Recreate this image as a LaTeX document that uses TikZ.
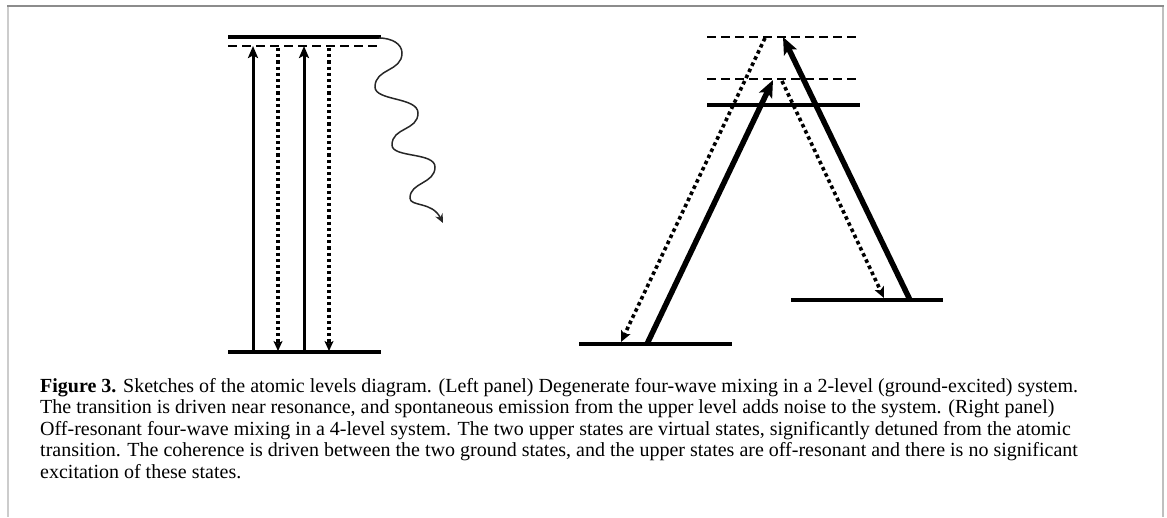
\documentclass[tikz,border=0pt]{standalone}
\usepackage{fontspec}
\setmainfont{Liberation Serif}
\usetikzlibrary{arrows.meta}
\begin{document}
\begin{tikzpicture}[x=1pt,y=-1pt,
  level/.style={line width=4pt},
  virt/.style={line width=1.6pt,dash pattern=on 9pt off 5pt},
  pump/.style={line width=3pt,-{Stealth[length=12pt,width=10pt,inset=2.5pt]}},
  emit/.style={line width=3.2pt,dash pattern=on 3.2pt off 3pt,-{Stealth[length=10pt,width=9pt,inset=2.5pt]}},
  bigpump/.style={line width=5.5pt,-{Stealth[length=17pt,width=14pt,inset=3.5pt]}},
  bigemit/.style={line width=3.6pt,dash pattern=on 3.6pt off 3.2pt,-{Stealth[length=11pt,width=10pt,inset=2.5pt]}},
  wave/.style={line width=1.5pt,draw=black!85,-{Stealth[length=9pt,width=8pt]}},
  capline/.style={anchor=base west,inner sep=0pt,font=\fontsize{20}{21.5}\selectfont},
  frame/.style={line width=1.6pt}
]
\useasboundingbox (0,0) rectangle (1167,517);
% frame
\draw[frame,draw=black!20] (8,6) -- (8,517);
\draw[frame,draw=black!25] (1163,6) -- (1163,517);
\draw[frame,draw=black!45] (7,6) -- (1164,6);

% ---------- left panel ----------
\coordinate (eL) at (228,37);  \coordinate (eR) at (381,37);
\coordinate (vL) at (228,46);  \coordinate (vR) at (381,46);
\coordinate (gL) at (228,352); \coordinate (gR) at (381,352);
\draw[level] (eL) -- (eR);
\draw[virt] (vL) -- (vR);
\draw[level] (gL) -- (gR);
\coordinate (a1b) at (253,352); \coordinate (a1t) at (253,46);
\coordinate (d1t) at (278,48);  \coordinate (d1b) at (278,351);
\coordinate (a2b) at (304,352); \coordinate (a2t) at (304,46);
\coordinate (d2t) at (329,48);  \coordinate (d2b) at (329,351);
\draw[pump] (a1b) -- (a1t);
\draw[pump] (a2b) -- (a2t);
\draw[emit] (d1t) -- (d1b);
\draw[emit] (d2t) -- (d2b);
% spontaneous emission
\coordinate (ws) at (379,38);
\coordinate (we) at (443,223);
\draw[wave] (ws) .. controls (392,38) and (402,44) .. (402,53)
  .. controls (402,72) and (375,68) .. (375,87)
  .. controls (375,101) and (418,97) .. (418,113)
  .. controls (418,131) and (392,127) .. (392,145)
  .. controls (392,158) and (435,152) .. (435,167)
  .. controls (435,184) and (410,182) .. (410,198)
  .. controls (410,207) and (432,201) .. (we);

% ---------- right panel ----------
\coordinate (t1L) at (707,37); \coordinate (t1R) at (857,37);
\coordinate (t2L) at (707,79); \coordinate (t2R) at (857,79);
\coordinate (sL) at (707,105); \coordinate (sR) at (860,105);
\coordinate (g1L) at (579,344); \coordinate (g1R) at (732,344);
\coordinate (g2L) at (791,300); \coordinate (g2R) at (943,300);
\draw[virt] (t1L) -- (t1R);
\draw[virt] (t2L) -- (t2R);
\draw[level] (sL) -- (sR);
\draw[level] (g1L) -- (g1R);
\draw[level] (g2L) -- (g2R);
\coordinate (A0) at (647,344); \coordinate (A1) at (773,80);
\coordinate (B0) at (765,38);  \coordinate (B1) at (621,342);
\coordinate (C0) at (910,300); \coordinate (C1) at (783,37);
\coordinate (D0) at (782,81);  \coordinate (D1) at (884,298);
\draw[bigemit] (B0) -- (B1);
\draw[bigemit] (D0) -- (D1);
\draw[bigpump] (A0) -- (A1);
\draw[bigpump] (C0) -- (C1);

% ---------- caption ----------
\node[capline] (c1) at (40,392) {\textbf{Figure 3.} Sketches of the atomic levels diagram. (Left panel) Degenerate four-wave mixing in a 2-level (ground-excited) system.};
\node[capline] (c2) at (40,413.5) {The transition is driven near resonance, and spontaneous emission from the upper level adds noise to the system. (Right panel)};
\node[capline] (c3) at (40,435) {Off-resonant four-wave mixing in a 4-level system. The two upper states are virtual states, significantly detuned from the atomic};
\node[capline] (c4) at (40,456.5) {transition. The coherence is driven between the two ground states, and the upper states are off-resonant and there is no significant};
\node[capline] (c5) at (40,478) {excitation of these states.};
\end{tikzpicture}
\end{document}
